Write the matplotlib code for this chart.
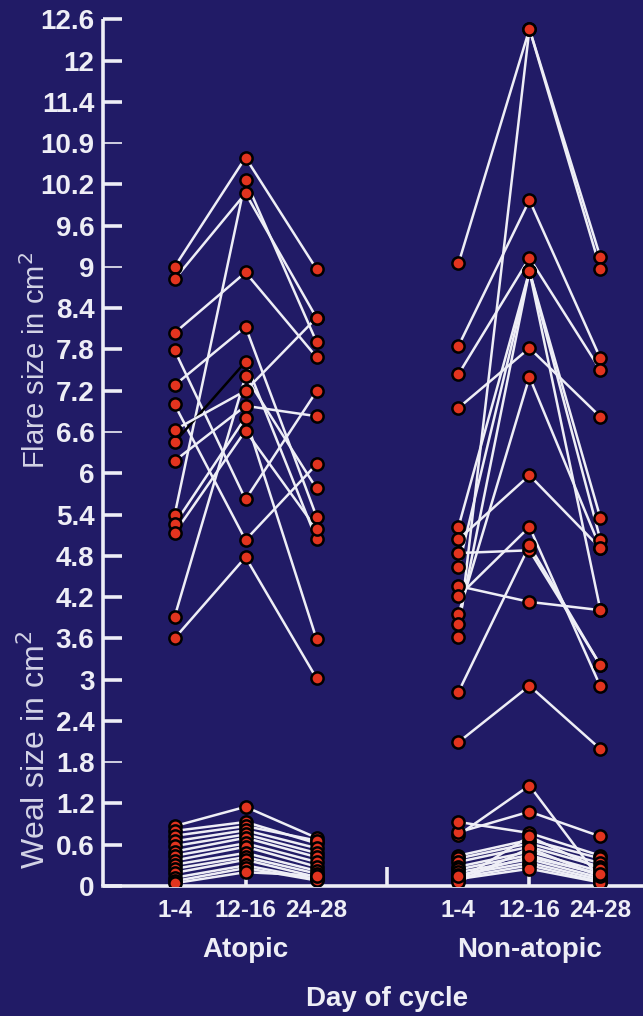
import matplotlib
matplotlib.use("Agg")
import matplotlib.pyplot as plt
import numpy as np

# ---------------- data ----------------
days = ["1-4", "12-16", "24-28"]
groups = ["Atopic", "Non-atopic"]

y_tick_values = [0, 0.6, 1.2, 1.8, 2.4, 3.0, 3.6, 4.2, 4.8, 5.4, 6.0, 6.6,
                 7.2, 7.8, 8.4, 9.0, 9.6, 10.2, 10.8, 11.4, 12.0, 12.6]
y_tick_labels = ["0", "0.6", "1.2", "1.8", "2.4", "3", "3.6", "4.2", "4.8",
                 "5.4", "6", "6.6", "7.2", "7.8", "8.4", "9", "9.6", "10.2",
                 "10.9", "11.4", "12", "12.6"]
thin_tick_labels = ["1.8", "6.6", "9", "10.9"]

# Atopic flare (cm2): day 1-4, 12-16, 24-28 per subject
atopic_flare_d1 = [9.00, 8.82, 5.39, 8.04, 7.28, 7.79, 7.00, 3.60, 3.91, 6.45, 6.63, 6.18, 5.26, 5.13]
atopic_flare_d2 = [10.59, 10.07, 10.26, 8.92, 8.13, 5.62, 5.03, 4.78, 7.41, 7.62, 7.20, 6.98, 6.81, 6.62]
atopic_flare_d3 = [8.97, 8.26, 7.91, 7.69, 5.37, 7.19, 6.13, 3.02, 5.78, 5.04, 8.26, 6.83, 3.59, 5.19]
atopic_black_subject = 9   # the one segment drawn in black (day 1-4 to 12-16)

# Atopic weal (cm2)
atopic_weal_d1 = [0.87, 0.80, 0.73, 0.65, 0.58, 0.50, 0.44, 0.37, 0.31, 0.25, 0.19, 0.12, 0.07, 0.04]
atopic_weal_d2 = [1.15, 0.93, 0.87, 0.81, 0.75, 0.70, 0.62, 0.57, 0.48, 0.42, 0.38, 0.30, 0.26, 0.20]
atopic_weal_d3 = [0.70, 0.62, 0.66, 0.55, 0.48, 0.42, 0.35, 0.28, 0.22, 0.18, 0.13, 0.10, 0.08, 0.15]

# Non-atopic flare (cm2)
nonatopic_flare_d1 = [9.05, 3.62, 7.85, 6.95, 7.44, 5.22, 5.04, 4.84, 4.36, 4.64, 4.21, 3.95, 3.81, 2.82, 2.09]
nonatopic_flare_d2 = [12.46, 12.46, 9.97, 7.82, 9.13, 8.94, 5.97, 4.88, 4.13, 8.94, 5.22, 7.40, 8.94, 4.95, 2.91]
nonatopic_flare_d3 = [9.14, 8.97, 7.67, 6.82, 7.50, 5.35, 4.91, 3.21, 4.01, 5.03, 2.90, 4.91, 4.01, 3.21, 1.99]

# Non-atopic weal (cm2)
nonatopic_weal_d1 = [0.74, 0.78, 0.93, 0.44, 0.40, 0.35, 0.28, 0.24, 0.20, 0.16, 0.12, 0.10, 0.08, 0.06, 0.14]
nonatopic_weal_d2 = [1.46, 1.08, 0.77, 0.67, 0.62, 0.57, 0.50, 0.45, 0.39, 0.34, 0.30, 0.25, 0.72, 0.55, 0.42]
nonatopic_weal_d3 = [0.09, 0.72, 0.44, 0.40, 0.33, 0.28, 0.21, 0.16, 0.12, 0.09, 0.06, 0.05, 0.24, 0.14, 0.18]

# ---------------- style ----------------
BG = "#211b66"
FG = "#eeeef6"
LABEL_C = "#d4d4e6"
DOT = "#e2341f"
FONT = "Liberation Sans"

fig = plt.figure(figsize=(6.43, 10.16), dpi=100, facecolor=BG)
ax = fig.add_axes([0.160, 0.128, 0.840, 0.853])
ax.set_facecolor(BG)

group_x = {"Atopic": [0, 1, 2], "Non-atopic": [4, 5, 6]}


def draw_group(xs, d1, d2, d3, black=None):
    for i, (a, b, c) in enumerate(zip(d1, d2, d3)):
        col1 = "black" if black == i else FG
        ax.plot(xs[:2], [a, b], color=col1, lw=1.8, zorder=2, solid_capstyle="round")
        ax.plot(xs[1:], [b, c], color=FG, lw=1.8, zorder=2, solid_capstyle="round")
    for x, vals in zip(xs, (d1, d2, d3)):
        ax.plot([x] * len(vals), vals, ls="none", marker="o", ms=8.8,
                mfc=DOT, mec="black", mew=1.8, zorder=3)


draw_group(group_x["Atopic"], atopic_flare_d1, atopic_flare_d2, atopic_flare_d3,
           black=atopic_black_subject)
draw_group(group_x["Atopic"], atopic_weal_d1, atopic_weal_d2, atopic_weal_d3)
draw_group(group_x["Non-atopic"], nonatopic_flare_d1, nonatopic_flare_d2, nonatopic_flare_d3)
draw_group(group_x["Non-atopic"], nonatopic_weal_d1, nonatopic_weal_d2, nonatopic_weal_d3)

ax.set_xlim(-1.01, 6.6)
ax.set_ylim(0, 12.6)

for s in ["top", "right"]:
    ax.spines[s].set_visible(False)
for s in ["left", "bottom"]:
    ax.spines[s].set_color(FG)
    ax.spines[s].set_linewidth(2.6)
ax.spines["left"].set_capstyle("butt")

# y ticks: thick majors and thin minors, all labelled
major_v = [v for v, l in zip(y_tick_values, y_tick_labels) if l not in thin_tick_labels]
major_l = [l for l in y_tick_labels if l not in thin_tick_labels]
minor_v = [v for v, l in zip(y_tick_values, y_tick_labels) if l in thin_tick_labels]
minor_l = [l for l in y_tick_labels if l in thin_tick_labels]
ax.set_yticks(major_v)
ax.set_yticklabels(major_l)
ax.set_yticks(minor_v, minor=True)
ax.set_yticklabels(minor_l, minor=True)
ax.tick_params(axis="y", which="major", direction="in", length=14, width=2.6,
               color=FG, labelcolor=FG, labelsize=20, pad=6)
ax.tick_params(axis="y", which="minor", direction="in", length=14, width=1.2,
               color=FG, labelcolor=FG, labelsize=20, pad=6)
for lab in ax.get_yticklabels(which="both"):
    lab.set_fontfamily(FONT)
    lab.set_fontweight("bold")

# x ticks: separator tick and small ticks at mid-cycle
ax.set_xticks([3])
ax.set_xticklabels([""])
ax.set_xticks([1, 5], minor=True)
ax.set_xticklabels(["", ""], minor=True)
ax.tick_params(axis="x", which="major", direction="in", length=14, width=2.6, color=FG)
ax.tick_params(axis="x", which="minor", direction="in", length=7, width=2.6, color=FG)

# day labels and group labels
for g in groups:
    for x, d in zip(group_x[g], days):
        ax.text(x, -0.36, d, ha="center", va="center", color=FG, fontsize=17.5,
                fontweight="bold", fontfamily=FONT)
    ax.text(np.mean(group_x[g]), -0.93, g, ha="center", va="center", color=FG,
            fontsize=20, fontweight="bold", fontfamily=FONT)
ax.text(3, -1.65, "Day of cycle", ha="center", va="center", color=FG,
        fontsize=20, fontweight="bold", fontfamily=FONT)

# y axis titles
fig.text(0.056, 0.645, "Flare size in cm$^2$", rotation=90, ha="center", va="center",
         color=LABEL_C, fontsize=21, fontfamily=FONT)
fig.text(0.056, 0.262, "Weal size in cm$^2$", rotation=90, ha="center", va="center",
         color=LABEL_C, fontsize=23, fontfamily=FONT)

fig.savefig("out.png", dpi=100, facecolor=BG)
